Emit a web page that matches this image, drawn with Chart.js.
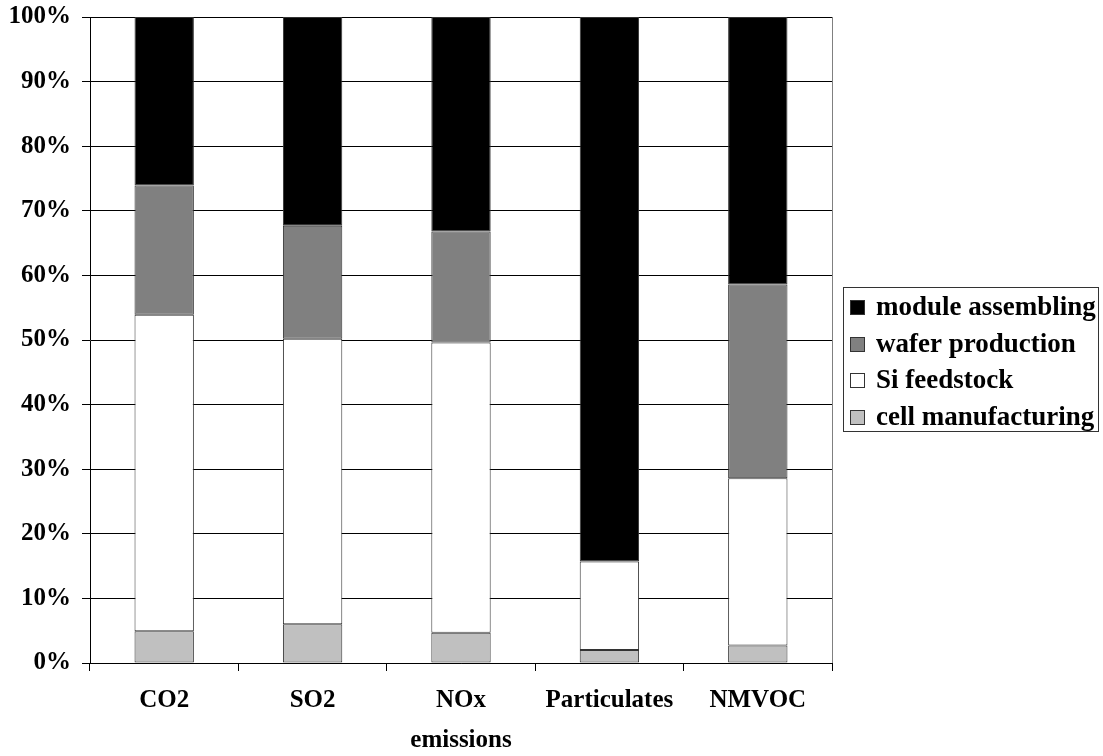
<!DOCTYPE html>
<html>
<head>
<meta charset="utf-8">
<script src="https://cdn.jsdelivr.net/npm/chart.js@4/dist/chart.umd.min.js"></script>
<style>
  html, body { margin: 0; padding: 0; background: #ffffff; }
  #wrap { width: 1103px; height: 756px; }
</style>
</head>
<body>
<div id="wrap"><canvas id="c" width="1103" height="756"></canvas></div>
<script>
// Share of each life-cycle stage in the total emissions (%)
const categories = ['CO2', 'SO2', 'NOx', 'Particulates', 'NMVOC'];
const cellManufacturing = [4.9, 6.0, 4.7, 2.0, 2.7];
const siFeedstock       = [49.0, 44.2, 44.9, 13.7, 25.9];
const waferProduction   = [20.0, 17.5, 17.2, 0.0, 30.0];
const moduleAssembling  = [26.1, 32.3, 33.2, 84.3, 41.4];
const yTickValues = [0, 10, 20, 30, 40, 50, 60, 70, 80, 90, 100];
const xAxisTitle = 'emissions';

const FONT = 'Liberation Serif, Times New Roman, serif';

// Frame line on the right edge of the plot area
const rightFrame = {
  id: 'rightFrame',
  afterDatasetsDraw(chart) {
    const { ctx, chartArea } = chart;
    ctx.save();
    ctx.strokeStyle = '#808080';
    ctx.lineWidth = 1;
    ctx.beginPath();
    ctx.moveTo(Math.round(chartArea.right) + 0.5, chartArea.top);
    ctx.lineTo(Math.round(chartArea.right) + 0.5, chartArea.bottom);
    ctx.stroke();
    ctx.restore();
  }
};

// Boxed legend listing the stages from top of stack to bottom
const boxLegend = {
  id: 'boxLegend',
  afterDraw(chart) {
    const { ctx, chartArea } = chart;
    const items = chart.data.datasets.slice().reverse();
    const x = Math.round(chartArea.right) + 11;
    const y = 287;
    const w = 255, h = 144;
    const rowH = 36.7;
    ctx.save();
    ctx.fillStyle = '#ffffff';
    ctx.fillRect(x, y, w, h);
    ctx.strokeStyle = '#333333';
    ctx.lineWidth = 1;
    ctx.strokeRect(x + 0.5, y + 0.5, w, h);
    ctx.font = 'bold 27px ' + FONT;
    ctx.textBaseline = 'middle';
    ctx.textAlign = 'left';
    items.forEach((ds, i) => {
      const cy = y + 20 + i * rowH;
      ctx.fillStyle = ds.backgroundColor;
      ctx.fillRect(x + 7, Math.round(cy - 7), 14, 14);
      ctx.strokeStyle = '#333333';
      ctx.strokeRect(x + 7.5, Math.round(cy - 7) + 0.5, 14, 14);
      ctx.fillStyle = '#000000';
      ctx.fillText(ds.label, x + 33, cy + 1);
    });
    ctx.restore();
  }
};

const common = { borderColor: '#333333', borderWidth: 1, borderSkipped: false,
                 barPercentage: 0.4, categoryPercentage: 1.0 };

new Chart(document.getElementById('c'), {
  type: 'bar',
  data: {
    labels: categories,
    datasets: [
      Object.assign({ label: 'cell manufacturing', data: cellManufacturing, backgroundColor: '#c0c0c0' }, common),
      Object.assign({ label: 'Si feedstock', data: siFeedstock, backgroundColor: '#ffffff' }, common),
      Object.assign({ label: 'wafer production', data: waferProduction, backgroundColor: '#808080' }, common),
      Object.assign({ label: 'module assembling', data: moduleAssembling, backgroundColor: '#000000' }, common)
    ]
  },
  options: {
    responsive: false,
    animation: false,
    devicePixelRatio: 1,
    layout: { padding: { top: 17, right: 271, left: 0, bottom: 0 } },
    plugins: { legend: { display: false }, tooltip: { enabled: false } },
    scales: {
      x: {
        stacked: true,
        offset: true,
        grid: { offset: true, drawOnChartArea: false, drawTicks: true, tickLength: 8, color: '#000000' },
        border: { color: '#000000', width: 1 },
        ticks: { color: '#000000', font: { family: FONT, size: 25, weight: 'bold' }, padding: 15, maxRotation: 0 },
        title: { display: true, text: xAxisTitle, color: '#000000',
                 font: { family: FONT, size: 25, weight: 'bold' }, padding: { top: 16, bottom: 0 } },
        afterFit(scale) { scale.height = 93; }
      },
      y: {
        stacked: true,
        min: 0, max: 100,
        afterBuildTicks(scale) { scale.ticks = yTickValues.map(v => ({ value: v })); },
        grid: { color: '#000000', lineWidth: 1, tickLength: 8, drawTicks: true },
        border: { color: '#000000', width: 1 },
        ticks: { color: '#000000', font: { family: FONT, size: 25, weight: 'bold' }, padding: 11,
                 callback: v => v + '%' },
        afterFit(scale) { scale.width = 90; scale.paddingTop = 0; scale.paddingBottom = 0; }
      }
    }
  },
  plugins: [rightFrame, boxLegend]
});
</script>
</body>
</html>
